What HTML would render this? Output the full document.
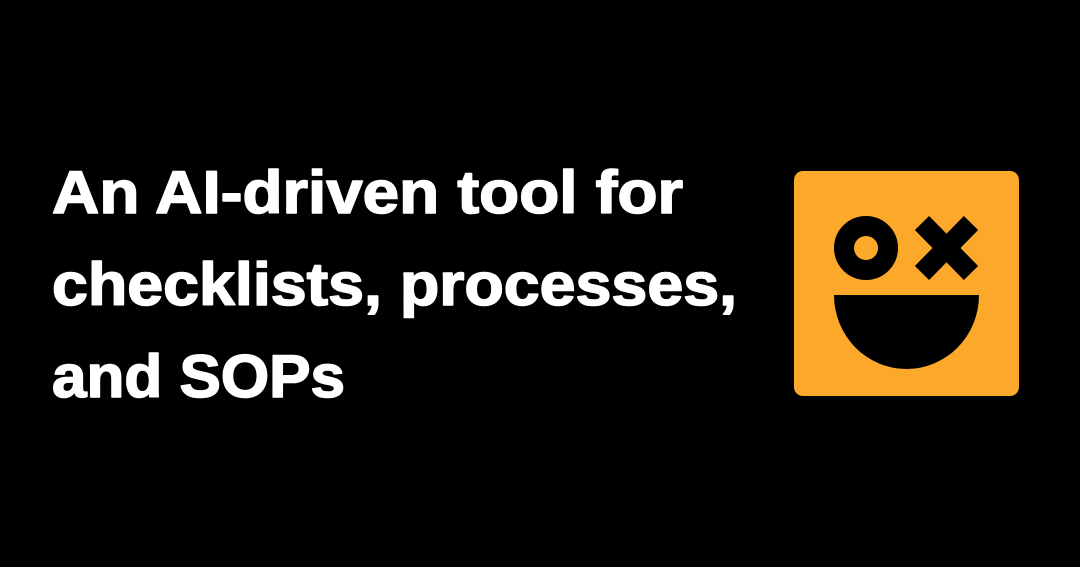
<!DOCTYPE html>
<html><head><meta charset="utf-8"><style>
html,body{margin:0;padding:0;background:#000;}
svg{display:block;}
</style></head><body>
<svg width="1080" height="567" viewBox="0 0 1080 567" xmlns="http://www.w3.org/2000/svg">
<rect width="1080" height="567" fill="#000"/>
<g font-family="Liberation Sans, sans-serif" font-weight="700" font-size="60" fill="#fff" stroke="#fff" stroke-width="1.6" stroke-linejoin="round">
<text x="52" y="213" textLength="631" lengthAdjust="spacingAndGlyphs">An AI-driven tool for</text>
<text x="52" y="305" textLength="685" lengthAdjust="spacingAndGlyphs">checklists, processes,</text>
<text x="52" y="397" textLength="293" lengthAdjust="spacingAndGlyphs">and SOPs</text>
</g>
<rect x="794" y="171" width="225" height="225" rx="9" fill="#FCA82B"/>
<circle cx="866" cy="248" r="22" fill="none" stroke="#000" stroke-width="20"/>
<g stroke="#000" stroke-width="20" stroke-linecap="butt">
<line x1="922" y1="223" x2="971" y2="273"/>
<line x1="971" y1="223" x2="922" y2="273"/>
</g>
<path d="M834 295 L979 295 A72.5 74 0 0 1 834 295 Z" fill="#000"/>
</svg>
</body></html>
